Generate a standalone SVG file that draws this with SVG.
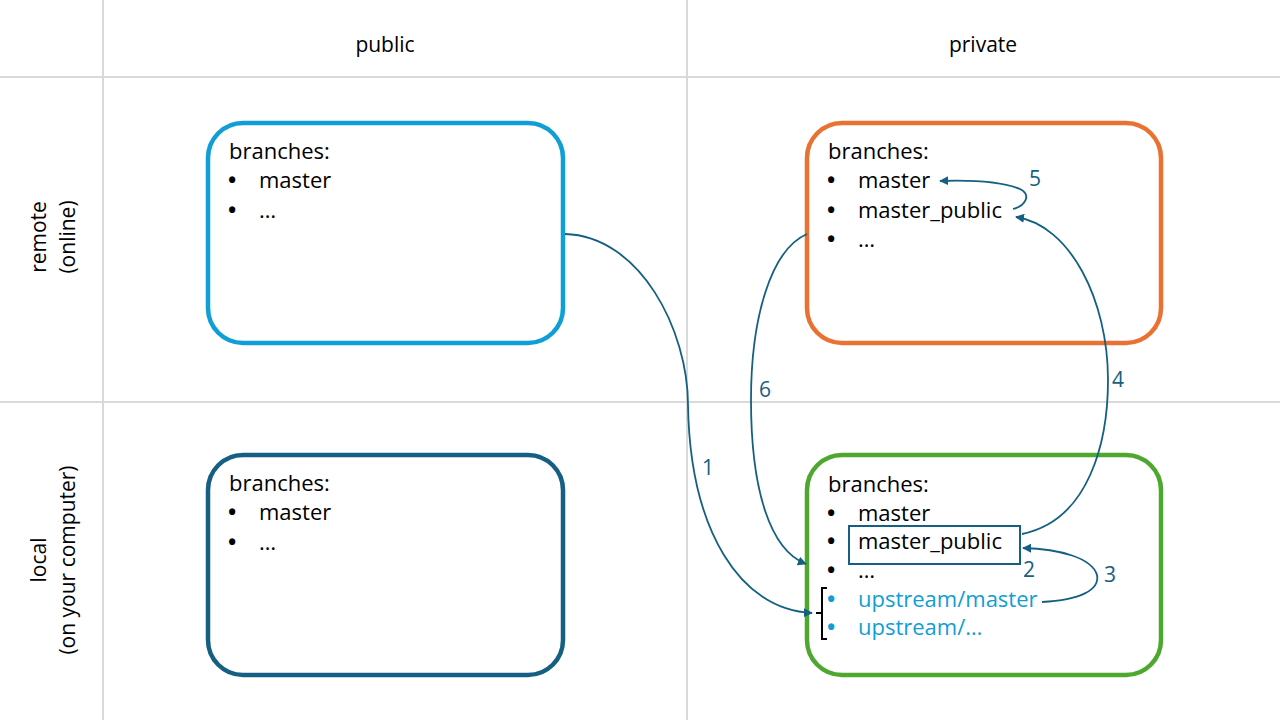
<svg xmlns="http://www.w3.org/2000/svg" width="1280" height="720" viewBox="0 0 1280 720">
<defs>
<style>
.grid{stroke:#d9d9d9;stroke-width:2;fill:none}
.box{fill:#ffffff;stroke-width:4.5}
.t{font-family:"Open Sans","Liberation Sans",sans-serif;font-size:22px;fill:#000000}
.b{font-weight:bold}
.up{fill:#0F9ED5}
.hdr{font-family:"Open Sans","Liberation Sans",sans-serif;font-size:21px;fill:#000000;text-anchor:middle}
.conn{fill:none;stroke:#156082;stroke-width:1.8}
.num{font-family:"Open Sans","Liberation Sans",sans-serif;font-size:21px;fill:#156082;text-anchor:middle}
</style>
<marker id="arr" viewBox="0 0 10 10" refX="9" refY="5" markerWidth="9" markerHeight="9" markerUnits="userSpaceOnUse" orient="auto">
<path d="M0,0 L10,5 L0,10 Z" fill="#156082"/>
</marker>
</defs>
<rect width="1280" height="720" fill="#ffffff"/>
<g id="grid">
<line class="grid" x1="0" y1="77" x2="1280" y2="77"/>
<line class="grid" x1="0" y1="402" x2="1280" y2="402"/>
<line class="grid" x1="103" y1="0" x2="103" y2="720"/>
<line class="grid" x1="687" y1="0" x2="687" y2="720"/>
</g>
<g id="headers">
<text class="hdr" x="385" y="52">public</text>
<text class="hdr" x="983" y="52">private</text>
<text class="hdr" transform="translate(46,237) rotate(-90)">remote</text>
<text class="hdr" transform="translate(75,237) rotate(-90)">(online)</text>
<text class="hdr" transform="translate(46,560) rotate(-90)">local</text>
<text class="hdr" transform="translate(75,560) rotate(-90)">(on your computer)</text>
</g>
<g id="public-remote">
<rect class="box" x="208" y="123" width="355" height="220" rx="35" stroke="#0F9ED5"/>
<text class="t" x="229" y="159">branches:</text>
<text class="t b" x="228" y="188">•</text><text class="t" x="259" y="188">master</text>
<text class="t b" x="228" y="218">•</text><text class="t" x="259" y="218">…</text>
</g>
<g id="public-local">
<rect class="box" x="208" y="455" width="355" height="220" rx="35" stroke="#156082"/>
<text class="t" x="229" y="491">branches:</text>
<text class="t b" x="228" y="520">•</text><text class="t" x="259" y="520">master</text>
<text class="t b" x="228" y="550">•</text><text class="t" x="259" y="550">…</text>
</g>
<g id="private-remote">
<rect class="box" x="807" y="123" width="354" height="220" rx="35" stroke="#E97132"/>
<text class="t" x="828" y="159">branches:</text>
<text class="t b" x="827" y="188">•</text><text class="t" x="858" y="188">master</text>
<text class="t b" x="827" y="218">•</text><text class="t" x="858" y="218">master_public</text>
<text class="t b" x="827" y="247">•</text><text class="t" x="858" y="247">…</text>
</g>
<g id="private-local">
<rect class="box" x="807" y="455" width="354" height="220" rx="35" stroke="#4EA72E"/>
<text class="t" x="828" y="492">branches:</text>
<text class="t b" x="827" y="521">•</text><text class="t" x="858" y="521">master</text>
<text class="t b" x="827" y="549">•</text><text class="t" x="858" y="549">master_public</text>
<rect x="849" y="526" width="171" height="38" fill="none" stroke="#156082" stroke-width="2"/>
<text class="t b" x="827" y="578">•</text><text class="t" x="858" y="578">…</text>
<text class="t b up" x="827" y="607">•</text><text class="t up" x="858" y="607">upstream/master</text>
<text class="t b up" x="827" y="635">•</text><text class="t up" x="858" y="635">upstream/…</text>
<path d="M827,588 H822 V639 H827 M822,613 H816" fill="none" stroke="#000000" stroke-width="2"/>
</g>
<g id="connectors">
<path class="conn" d="M565,234 C640,236 688,330 688,405 C690,530 740,610 812,613" marker-end="url(#arr)"/>
<path class="conn" d="M807,234 C770,250 751,320 751,400 C751,490 770,550 806,564" marker-end="url(#arr)"/>
<path class="conn" d="M1022,534 C1090,520 1108,440 1108,380 C1108,300 1070,225 1016,217" marker-end="url(#arr)"/>
<path class="conn" d="M1013,209 C1025,206 1032,195 1020,189 C1000,181 970,180 940,181" marker-end="url(#arr)"/>
<path class="conn" d="M1042,602 C1080,600 1100,590 1097,575 C1092,558 1060,549 1023,548" marker-end="url(#arr)"/>
<text class="num" x="708" y="475">1</text>
<text class="num" x="1029" y="577">2</text>
<text class="num" x="1110" y="582">3</text>
<text class="num" x="1118" y="387">4</text>
<text class="num" x="1035" y="186">5</text>
<text class="num" x="765" y="397">6</text>
</g>
</svg>
